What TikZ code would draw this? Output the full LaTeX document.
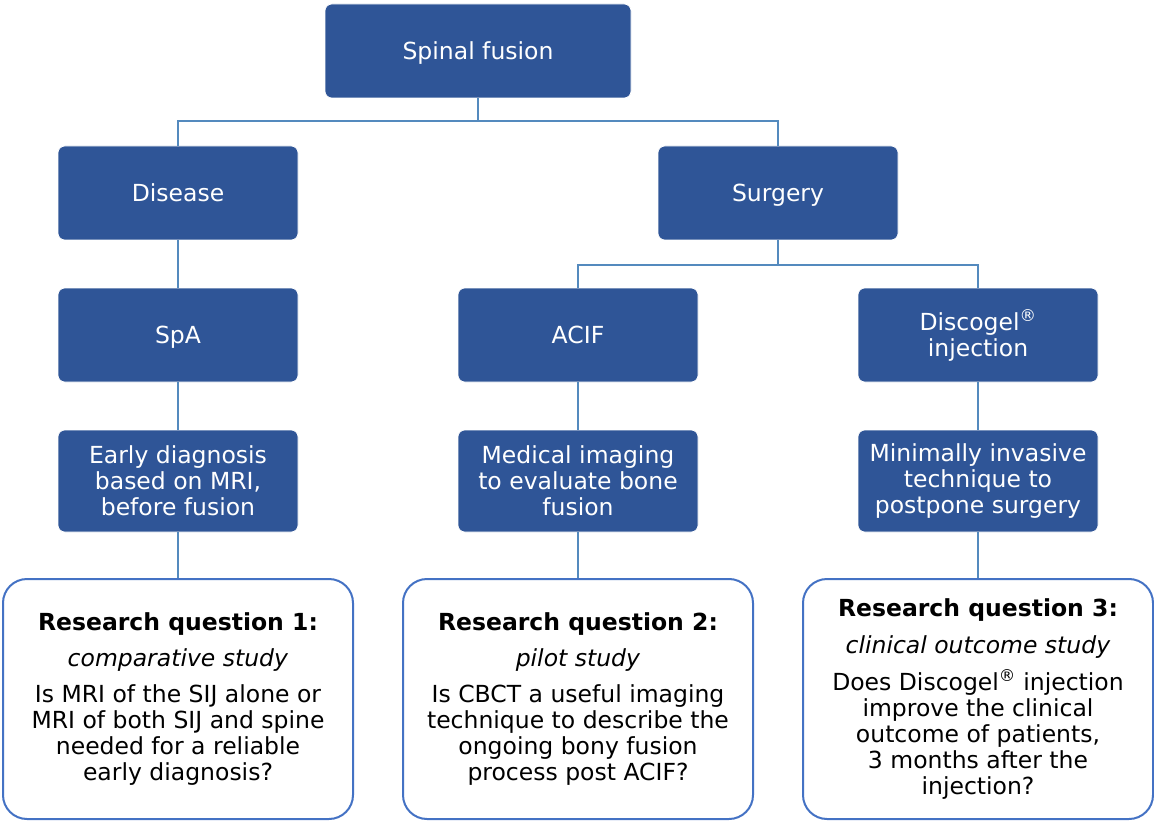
\documentclass[tikz,border=0pt]{standalone}
\usepackage{fontspec}
\setmainfont{DejaVu Sans}
\begin{document}
\begin{tikzpicture}[x=1pt,y=-1pt,
  bluebox/.style={draw=white,line width=0.6pt,fill=boxblue,rounded corners=7pt,text=white,
    minimum width=240pt,minimum height=94pt,inner sep=0pt,align=center,
    font=\fontsize{23.5}{26}\selectfont},
  oneline/.style={text height=17pt,text depth=0pt},
  rqbox/.style={draw=rqborder,line width=2pt,fill=white,rounded corners=24pt,text=black,
    minimum width=350pt,minimum height=240pt,inner sep=0pt,align=center,
    font=\fontsize{23.5}{26}\selectfont},
  link/.style={draw=linkblue,line width=2pt}]
\definecolor{boxblue}{RGB}{47,85,151}
\definecolor{linkblue}{RGB}{84,138,190}
\definecolor{rqborder}{RGB}{68,114,196}
\useasboundingbox (0,0) rectangle (1154,821);
% nodes
\node[bluebox,oneline,minimum width=306pt] (root) at (478,51) {Spinal fusion};
\node[bluebox,oneline] (disease) at (178,193) {Disease};
\node[bluebox,oneline] (surgery) at (778,193) {Surgery};
\node[bluebox,oneline] (spa) at (178,335) {SpA};
\node[bluebox,oneline] (acif) at (578,335) {ACIF};
\node[bluebox] (disco) at (978,335) {Discogel\textsuperscript{®}\\injection};
\node[bluebox,minimum height=102pt] (early) at (178,481) {Early diagnosis\\based on MRI,\\before fusion};
\node[bluebox,minimum height=102pt] (imaging) at (578,481) {Medical imaging\\to evaluate bone\\fusion};
\node[bluebox,minimum height=102pt] (minimal) at (978,481) {Minimally invasive\\technique to\\postpone surgery};
\node[rqbox] (rq1) at (178,699) {\textbf{Research question 1:}\\[10pt]\textit{comparative study}\\[10pt]Is MRI of the SIJ alone or\\MRI of both SIJ and spine\\needed for a reliable\\early diagnosis?};
\node[rqbox] (rq2) at (578,699) {\textbf{Research question 2:}\\[10pt]\textit{pilot study}\\[10pt]Is CBCT a useful imaging\\technique to describe the\\ongoing bony fusion\\process post ACIF?};
\node[rqbox] (rq3) at (978,699) {\textbf{Research question 3:}\\[11pt]\textit{clinical outcome study}\\[11pt]Does Discogel\textsuperscript{®} injection\\improve the clinical\\outcome of patients,\\3 months after the\\injection?};
% connectors
\coordinate (j1) at (478,121);
\coordinate (j2) at (778,265);
\draw[link] (root.south) -- (j1) -| (disease.north);
\draw[link] (j1) -| (surgery.north);
\draw[link] (surgery.south) -- (j2) -| (acif.north);
\draw[link] (j2) -| (disco.north);
\draw[link] (disease) -- (spa);
\draw[link] (spa) -- (early);
\draw[link] (acif) -- (imaging);
\draw[link] (disco) -- (minimal);
\draw[link] (early) -- (rq1);
\draw[link] (imaging) -- (rq2);
\draw[link] (minimal) -- (rq3);
\end{tikzpicture}
\end{document}
